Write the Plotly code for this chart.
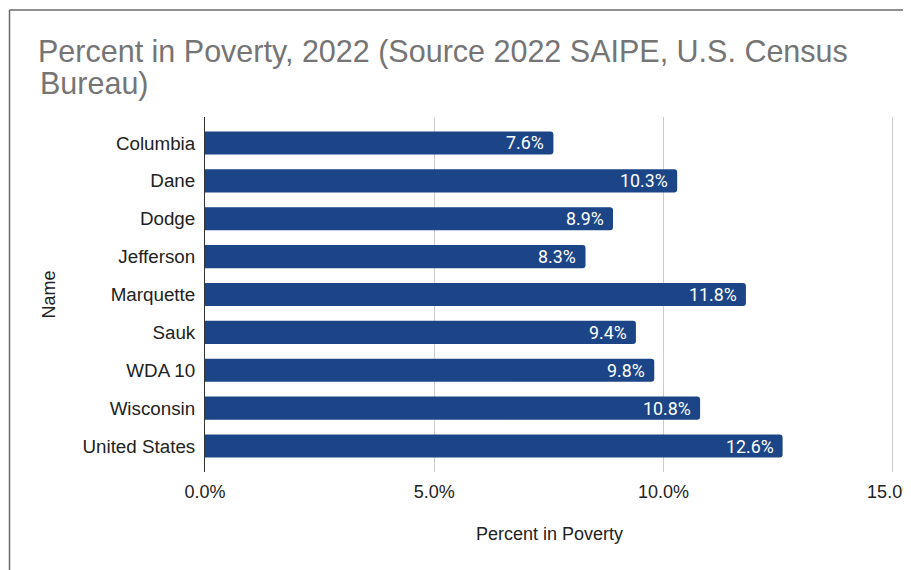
import plotly.graph_objects as go

names = ["Columbia", "Dane", "Dodge", "Jefferson", "Marquette", "Sauk",
         "WDA 10", "Wisconsin", "United States"]
poverty_pct = [7.6, 10.3, 8.9, 8.3, 11.8, 9.4, 9.8, 10.8, 12.6]
x_ticks = [0, 5, 10, 15]
x_tick_labels = ["0.0%", "5.0%", "10.0%", "15.0%"]

# the page body adds an 8px margin, so the figure is drawn 8px smaller
OFF = 8
W, H = 911 - OFF, 570 - OFF
ML, MR, MT, MB = 205 - OFF, 17, 117 - OFF, 98
PW, PH = W - ML - MR, H - MT - MB

BAR_COLOR = "#1c4587"
ARIAL = "Liberation Sans, Arial, sans-serif"
XTICK_FONT = dict(family=ARIAL, size=18, color="#222222")
YTICK_FONT = dict(family=ARIAL, size=18.8, color="#222222")


def px_x(p):
    return (p - OFF - ML) / PW


def px_y(p):
    return (H - MB - (p - OFF)) / PH


fig = go.Figure()
fig.add_trace(go.Bar(
    x=poverty_pct, y=names, orientation="h",
    marker=dict(color=BAR_COLOR, line=dict(width=0)),
    width=0.61,
    hoverinfo="x+y",
))

# value labels inside bar ends
for n, v in zip(names, poverty_pct):
    fig.add_annotation(x=v, y=n, xref="x", yref="y", text=f"{v:.1f}%",
                       showarrow=False, xanchor="right", yanchor="middle",
                       xshift=-7,
                       font=dict(family="Roboto, sans-serif", size=17.8, color="white"))

# second title line
fig.add_annotation(text="Bureau)", xref="paper", yref="paper",
                   x=px_x(38), y=px_y(84),
                   xanchor="left", yanchor="middle", showarrow=False,
                   font=dict(family=ARIAL, size=30.5, color="#757575"))

# surrounding frame (cropped border of the embedded chart)
fig.add_shape(type="line", xref="paper", yref="paper",
              x0=px_x(9.5), x1=px_x(915), y0=px_y(10), y1=px_y(10),
              line=dict(color="#6a6a6a", width=1.5))
fig.add_shape(type="line", xref="paper", yref="paper",
              x0=px_x(9.5), x1=px_x(9.5), y0=px_y(10), y1=px_y(575),
              line=dict(color="#6a6a6a", width=1.5))

fig.update_layout(
    width=W, height=H,
    margin=dict(l=ML, r=MR, t=MT, b=MB, autoexpand=False),
    paper_bgcolor="white", plot_bgcolor="white",
    barcornerradius=3,
    showlegend=False,
    title=dict(text="Percent in Poverty, 2022 (Source 2022 SAIPE, U.S. Census",
               x=(38 - OFF) / W, xanchor="left", xref="container",
               y=1 - (51.5 - OFF) / H, yanchor="middle", yref="container",
               font=dict(family=ARIAL, size=30.5, color="#757575")),
    xaxis=dict(range=[0, 15.03], tickvals=x_ticks, ticktext=x_tick_labels,
               showgrid=True, gridcolor="#cccccc", gridwidth=1,
               zeroline=False, showline=False,
               ticks="outside", ticklen=3, tickcolor="rgba(0,0,0,0)",
               ticklabeloverflow="allow",
               tickfont=XTICK_FONT,
               title=dict(text="Percent in Poverty", standoff=26, font=XTICK_FONT)),
    yaxis=dict(categoryorder="array", categoryarray=names,
               range=[len(names) - 1 + 0.685, -0.685],
               showgrid=False, zeroline=False,
               showline=True, linecolor="#333333", linewidth=1,
               ticks="outside", ticklen=5, tickcolor="rgba(0,0,0,0)",
               tickfont=YTICK_FONT,
               title=dict(text="Name", standoff=22, font=XTICK_FONT)),
)

fig.write_html("out.html")
